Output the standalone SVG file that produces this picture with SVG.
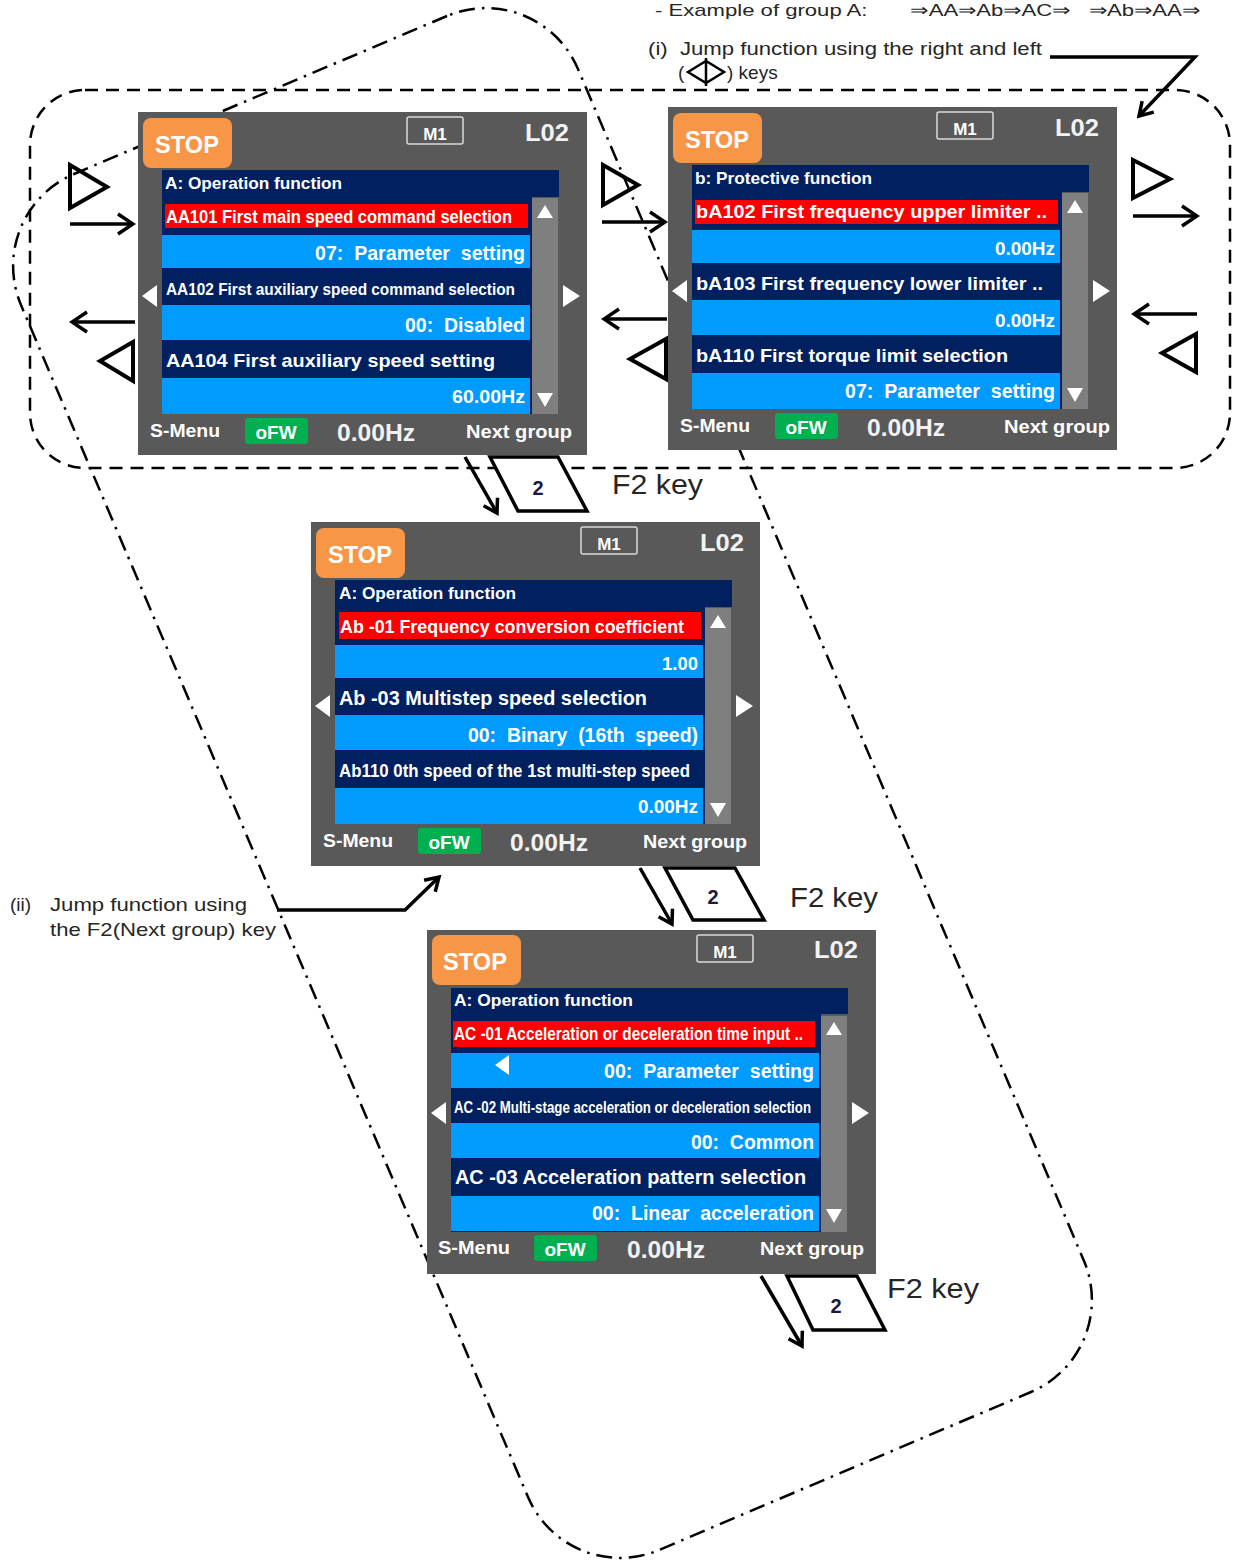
<svg xmlns="http://www.w3.org/2000/svg" width="1235" height="1563" viewBox="0 0 1235 1563">
<style>
.scr{fill:#595959}
.stop{fill:#F79646}
.nv{fill:#002060}
.bl{fill:#009BFF}
.rd{fill:#FF0000}
.sb{fill:#7F7F7F}
.wt{fill:#ffffff}
.grn{fill:#00B050}
.m1{fill:none;stroke:#d9d9d9;stroke-width:1.5}
.t{font-family:"Liberation Sans",Arial,sans-serif;font-weight:bold;fill:#ffffff}
.tg{font-family:"Liberation Sans",Arial,sans-serif;font-weight:bold;fill:#f2f2f2}
.lab{font-family:"Liberation Sans",Arial,sans-serif;fill:#262626}
.ln{stroke:#000;stroke-width:3.5;fill:none}
.tri{fill:none;stroke:#000;stroke-width:4;stroke-linejoin:miter}
.dash{fill:none;stroke:#000;stroke-width:2.5;stroke-dasharray:13 8}
.dd{fill:none;stroke:#000;stroke-width:2.5;stroke-dasharray:16 7 2.5 7}
.key{fill:#fff;stroke:#000;stroke-width:3.5;stroke-linejoin:miter}
.num{font-family:"Liberation Sans",Arial,sans-serif;font-weight:bold;fill:#1a1a40}
</style>
<defs>
<marker id="ah" viewBox="0 0 20 24" refX="17" refY="12" markerWidth="20" markerHeight="24" markerUnits="userSpaceOnUse" orient="auto">
<path d="M2,2 L17,12 L2,22" fill="none" stroke="#000" stroke-width="3.5"/>
</marker>
<marker id="ah2" viewBox="0 0 18 20" refX="15" refY="10" markerWidth="18" markerHeight="20" markerUnits="userSpaceOnUse" orient="auto">
<path d="M2,2 L15,10 L2,18" fill="none" stroke="#000" stroke-width="3.5"/>
</marker>
</defs>
<rect width="1235" height="1563" fill="#ffffff"/>

<g id="outlines">
<rect class="dash" x="30" y="90" width="1200" height="378" rx="55"/>
<path class="dd" d="M447,16 L74,174 A100,100 0 0 0 21,305 L528,1497 A100,100 0 0 0 659,1550 L1031,1392 A100,100 0 0 0 1084,1261 L578,69 A100,100 0 0 0 447,16 Z"/>
</g>

<g id="labels">
<text class="lab" x="655" y="16" font-size="17" textLength="545" lengthAdjust="spacingAndGlyphs" xml:space="preserve">- Example of group A:       ⇒AA⇒Ab⇒AC⇒   ⇒Ab⇒AA⇒</text>
<text class="lab" x="648" y="55" font-size="19" textLength="394" lengthAdjust="spacingAndGlyphs" xml:space="preserve">(i)  Jump function using the right and left</text>
<text class="lab" x="678" y="79" font-size="19">(</text>
<path d="M688,72 L706,61 L724,72 L706,83 Z M706,58 L706,86" fill="none" stroke="#000" stroke-width="2.5"/>
<text class="lab" x="727" y="79" font-size="19">) keys</text>
<text class="lab" x="10" y="911" font-size="19">(ii)</text>
<text class="lab" x="50" y="911" font-size="19" textLength="197" lengthAdjust="spacingAndGlyphs">Jump function using</text>
<text class="lab" x="50" y="936" font-size="19" textLength="226" lengthAdjust="spacingAndGlyphs">the F2(Next group) key</text>
</g>

<g id="screen1" transform="translate(138,112)">
<rect class="scr" x="0" y="0" width="449" height="343"/>
<rect class="stop" x="5" y="6" width="89" height="50" rx="8"/>
<text class="t" x="17" y="41" font-size="23" textLength="64" lengthAdjust="spacingAndGlyphs">STOP</text>
<rect class="m1" x="269" y="5" width="56" height="27" rx="2"/>
<text class="t" x="297" y="28" font-size="17" text-anchor="middle">M1</text>
<text class="tg" x="387" y="29" font-size="23" textLength="44" lengthAdjust="spacingAndGlyphs">L02</text>
<rect class="nv" x="24" y="58" width="397" height="27"/>
<text class="t" x="27" y="77" font-size="17" textLength="177" lengthAdjust="spacingAndGlyphs">A: Operation function</text>
<rect class="nv" x="24" y="85" width="370" height="217"/>
<rect class="sb" x="394" y="86" width="26" height="216"/>
<rect class="rd" x="27" y="92" width="363" height="24"/>
<rect class="bl" x="24" y="123" width="368" height="33"/>
<rect class="bl" x="24" y="193" width="368" height="35"/>
<rect class="bl" x="24" y="266" width="368" height="36"/>
<path class="wt" d="M407,93 L399,106 L415,106 Z M399,281 L415,281 L407,295 Z M4,184 L19,173 L19,195 Z M425,173 L442,184 L425,195 Z"/>
<text class="t" x="28" y="111" font-size="18" textLength="346" lengthAdjust="spacingAndGlyphs">AA101 First main speed command selection</text>
<text class="t" x="387" y="148" font-size="20" text-anchor="end" textLength="210" lengthAdjust="spacingAndGlyphs" xml:space="preserve">07:  Parameter  setting</text>
<text class="t" x="28" y="183" font-size="17" textLength="349" lengthAdjust="spacingAndGlyphs">AA102 First auxiliary speed command selection</text>
<text class="t" x="387" y="220" font-size="20" text-anchor="end" textLength="120" lengthAdjust="spacingAndGlyphs" xml:space="preserve">00:  Disabled</text>
<text class="t" x="28" y="255" font-size="19" textLength="329" lengthAdjust="spacingAndGlyphs">AA104 First auxiliary speed setting</text>
<text class="t" x="387" y="291" font-size="19" text-anchor="end" textLength="73" lengthAdjust="spacingAndGlyphs">60.00Hz</text>
<text class="t" x="12" y="325" font-size="19" textLength="70" lengthAdjust="spacingAndGlyphs">S-Menu</text>
<rect class="grn" x="107" y="306" width="63" height="26" rx="3"/>
<text class="t" x="138" y="327" font-size="19" text-anchor="middle">oFW</text>
<text class="tg" x="199" y="329" font-size="23" textLength="78" lengthAdjust="spacingAndGlyphs">0.00Hz</text>
<text class="t" x="328" y="326" font-size="19" textLength="106" lengthAdjust="spacingAndGlyphs">Next group</text>
</g>

<g id="screen2" transform="translate(668,107)">
<rect class="scr" x="0" y="0" width="449" height="343"/>
<rect class="stop" x="5" y="6" width="89" height="50" rx="8"/>
<text class="t" x="17" y="41" font-size="23" textLength="64" lengthAdjust="spacingAndGlyphs">STOP</text>
<rect class="m1" x="269" y="5" width="56" height="27" rx="2"/>
<text class="t" x="297" y="28" font-size="17" text-anchor="middle">M1</text>
<text class="tg" x="387" y="29" font-size="23" textLength="44" lengthAdjust="spacingAndGlyphs">L02</text>
<rect class="nv" x="24" y="58" width="397" height="27"/>
<text class="t" x="27" y="77" font-size="17" textLength="177" lengthAdjust="spacingAndGlyphs">b: Protective function</text>
<rect class="nv" x="24" y="85" width="370" height="217"/>
<rect class="sb" x="394" y="86" width="26" height="216"/>
<rect class="rd" x="27" y="93" width="363" height="24"/>
<rect class="bl" x="24" y="123" width="368" height="33"/>
<rect class="bl" x="24" y="193" width="368" height="35"/>
<rect class="bl" x="24" y="266" width="368" height="36"/>
<path class="wt" d="M407,93 L399,106 L415,106 Z M399,281 L415,281 L407,295 Z M4,184 L19,173 L19,195 Z M425,173 L442,184 L425,195 Z"/>
<text class="t" x="28" y="111" font-size="19" textLength="351" lengthAdjust="spacingAndGlyphs">bA102 First frequency upper limiter ..</text>
<text class="t" x="387" y="148" font-size="19" text-anchor="end" textLength="60" lengthAdjust="spacingAndGlyphs">0.00Hz</text>
<text class="t" x="28" y="183" font-size="19" textLength="347" lengthAdjust="spacingAndGlyphs">bA103 First frequency lower limiter ..</text>
<text class="t" x="387" y="220" font-size="19" text-anchor="end" textLength="60" lengthAdjust="spacingAndGlyphs">0.00Hz</text>
<text class="t" x="28" y="255" font-size="19" textLength="312" lengthAdjust="spacingAndGlyphs">bA110 First torque limit selection</text>
<text class="t" x="387" y="291" font-size="20" text-anchor="end" textLength="210" lengthAdjust="spacingAndGlyphs" xml:space="preserve">07:  Parameter  setting</text>
<text class="t" x="12" y="325" font-size="19" textLength="70" lengthAdjust="spacingAndGlyphs">S-Menu</text>
<rect class="grn" x="107" y="306" width="63" height="26" rx="3"/>
<text class="t" x="138" y="327" font-size="19" text-anchor="middle">oFW</text>
<text class="tg" x="199" y="329" font-size="23" textLength="78" lengthAdjust="spacingAndGlyphs">0.00Hz</text>
<text class="t" x="336" y="326" font-size="19" textLength="106" lengthAdjust="spacingAndGlyphs">Next group</text>
</g>

<g id="screen3" transform="translate(311,522)">
<rect class="scr" x="0" y="0" width="449" height="344"/>
<rect class="stop" x="5" y="6" width="89" height="50" rx="8"/>
<text class="t" x="17" y="41" font-size="23" textLength="64" lengthAdjust="spacingAndGlyphs">STOP</text>
<rect class="m1" x="270" y="5" width="56" height="27" rx="2"/>
<text class="t" x="298" y="28" font-size="17" text-anchor="middle">M1</text>
<text class="tg" x="389" y="29" font-size="23" textLength="44" lengthAdjust="spacingAndGlyphs">L02</text>
<rect class="nv" x="24" y="58" width="397" height="27"/>
<text class="t" x="28" y="77" font-size="17" textLength="177" lengthAdjust="spacingAndGlyphs">A: Operation function</text>
<rect class="nv" x="24" y="85" width="370" height="217"/>
<rect class="sb" x="394" y="86" width="26" height="216"/>
<rect class="rd" x="28" y="90" width="362" height="27"/>
<rect class="bl" x="24" y="123" width="368" height="33"/>
<rect class="bl" x="24" y="193" width="368" height="35"/>
<rect class="bl" x="24" y="266" width="368" height="36"/>
<path class="wt" d="M407,93 L399,106 L415,106 Z M399,281 L415,281 L407,295 Z M4,184 L19,173 L19,195 Z M425,173 L442,184 L425,195 Z"/>
<text class="t" x="29" y="111" font-size="19" textLength="344" lengthAdjust="spacingAndGlyphs">Ab -01 Frequency conversion coefficient</text>
<text class="t" x="387" y="148" font-size="19" text-anchor="end" textLength="36" lengthAdjust="spacingAndGlyphs">1.00</text>
<text class="t" x="28" y="183" font-size="20" textLength="308" lengthAdjust="spacingAndGlyphs">Ab -03 Multistep speed selection</text>
<text class="t" x="387" y="220" font-size="20" text-anchor="end" textLength="230" lengthAdjust="spacingAndGlyphs" xml:space="preserve">00:  Binary  (16th  speed)</text>
<text class="t" x="28" y="255" font-size="18" textLength="351" lengthAdjust="spacingAndGlyphs">Ab110 0th speed of the 1st multi-step speed</text>
<text class="t" x="387" y="291" font-size="19" text-anchor="end" textLength="60" lengthAdjust="spacingAndGlyphs">0.00Hz</text>
<text class="t" x="12" y="325" font-size="19" textLength="70" lengthAdjust="spacingAndGlyphs">S-Menu</text>
<rect class="grn" x="107" y="306" width="63" height="26" rx="3"/>
<text class="t" x="138" y="327" font-size="19" text-anchor="middle">oFW</text>
<text class="tg" x="199" y="329" font-size="23" textLength="78" lengthAdjust="spacingAndGlyphs">0.00Hz</text>
<text class="t" x="332" y="326" font-size="19" textLength="104" lengthAdjust="spacingAndGlyphs">Next group</text>
</g>

<g id="screen4" transform="translate(427,930)">
<rect class="scr" x="0" y="0" width="449" height="344"/>
<rect class="stop" x="5" y="5" width="89" height="50" rx="8"/>
<text class="t" x="16" y="40" font-size="23" textLength="64" lengthAdjust="spacingAndGlyphs">STOP</text>
<rect class="m1" x="270" y="5" width="56" height="27" rx="2"/>
<text class="t" x="298" y="28" font-size="17" text-anchor="middle">M1</text>
<text class="tg" x="387" y="28" font-size="23" textLength="44" lengthAdjust="spacingAndGlyphs">L02</text>
<rect class="nv" x="24" y="58" width="397" height="26"/>
<text class="t" x="27" y="76" font-size="17" textLength="179" lengthAdjust="spacingAndGlyphs">A: Operation function</text>
<rect class="nv" x="24" y="84" width="370" height="218"/>
<rect class="sb" x="394" y="86" width="26" height="216"/>
<rect class="rd" x="26" y="91" width="362" height="26"/>
<rect class="bl" x="24" y="123" width="368" height="35"/>
<rect class="bl" x="24" y="193" width="368" height="35"/>
<rect class="bl" x="24" y="266" width="368" height="35"/>
<path class="wt" d="M407,92 L399,105 L415,105 Z M399,279 L415,279 L407,293 Z M4,183 L19,172 L19,194 Z M425,172 L442,183 L425,194 Z M68,135 L82,125 L82,145 Z"/>
<text class="t" x="27" y="110" font-size="18" textLength="349" lengthAdjust="spacingAndGlyphs">AC -01 Acceleration or deceleration time input ..</text>
<text class="t" x="387" y="148" font-size="20" text-anchor="end" textLength="210" lengthAdjust="spacingAndGlyphs" xml:space="preserve">00:  Parameter  setting</text>
<text class="t" x="27" y="183" font-size="17" textLength="357" lengthAdjust="spacingAndGlyphs">AC -02 Multi-stage acceleration or deceleration selection</text>
<text class="t" x="387" y="219" font-size="20" text-anchor="end" textLength="123" lengthAdjust="spacingAndGlyphs" xml:space="preserve">00:  Common</text>
<text class="t" x="28" y="254" font-size="20" textLength="351" lengthAdjust="spacingAndGlyphs">AC -03 Acceleration pattern selection</text>
<text class="t" x="387" y="290" font-size="20" text-anchor="end" textLength="222" lengthAdjust="spacingAndGlyphs" xml:space="preserve">00:  Linear  acceleration</text>
<text class="t" x="11" y="324" font-size="19" textLength="72" lengthAdjust="spacingAndGlyphs">S-Menu</text>
<rect class="grn" x="107" y="305" width="63" height="26" rx="3"/>
<text class="t" x="138" y="326" font-size="19" text-anchor="middle">oFW</text>
<text class="tg" x="200" y="328" font-size="23" textLength="78" lengthAdjust="spacingAndGlyphs">0.00Hz</text>
<text class="t" x="333" y="325" font-size="19" textLength="104" lengthAdjust="spacingAndGlyphs">Next group</text>
</g>

<g id="connectors">
<polygon class="tri" points="70,165 107,187 70,208"/>
<line class="ln" x1="70" y1="224" x2="133" y2="224" marker-end="url(#ah)"/>
<line class="ln" x1="135" y1="322" x2="72" y2="322" marker-end="url(#ah)"/>
<polygon class="tri" points="133,342 100,361 133,381"/>

<polygon class="tri" points="603,165 638,185 603,205"/>
<line class="ln" x1="602" y1="222" x2="665" y2="222" marker-end="url(#ah)"/>
<line class="ln" x1="667" y1="319" x2="604" y2="319" marker-end="url(#ah)"/>
<polygon class="tri" points="666,339 630,359 666,379"/>

<polygon class="tri" points="1133,160 1170,179 1133,198"/>
<line class="ln" x1="1133" y1="216" x2="1197" y2="216" marker-end="url(#ah)"/>
<line class="ln" x1="1197" y1="314" x2="1134" y2="314" marker-end="url(#ah)"/>
<polygon class="tri" points="1196,334 1162,353 1196,372"/>

<polyline class="ln" points="1050,57 1195,57 1139,116" marker-end="url(#ah2)"/>
<polyline class="ln" points="277,910 405,910 439,877" marker-end="url(#ah2)"/>

<line class="ln" x1="465" y1="457" x2="497" y2="513" marker-end="url(#ah2)"/>
<polygon class="key" points="490,457 558,457 587,511 518,511"/>
<text class="num" x="538" y="495" font-size="20" text-anchor="middle">2</text>
<text class="lab" x="612" y="494" font-size="28" textLength="91" lengthAdjust="spacingAndGlyphs">F2 key</text>

<line class="ln" x1="640" y1="868" x2="672" y2="924" marker-end="url(#ah2)"/>
<polygon class="key" points="665,868 735,868 764,920 693,920"/>
<text class="num" x="713" y="904" font-size="20" text-anchor="middle">2</text>
<text class="lab" x="790" y="907" font-size="28" textLength="88" lengthAdjust="spacingAndGlyphs">F2 key</text>

<line class="ln" x1="761" y1="1276" x2="802" y2="1346" marker-end="url(#ah2)"/>
<polygon class="key" points="787,1276 857,1276 885,1330 813,1330"/>
<text class="num" x="836" y="1313" font-size="20" text-anchor="middle">2</text>
<text class="lab" x="887" y="1298" font-size="28" textLength="92" lengthAdjust="spacingAndGlyphs">F2 key</text>
</g>
</svg>
